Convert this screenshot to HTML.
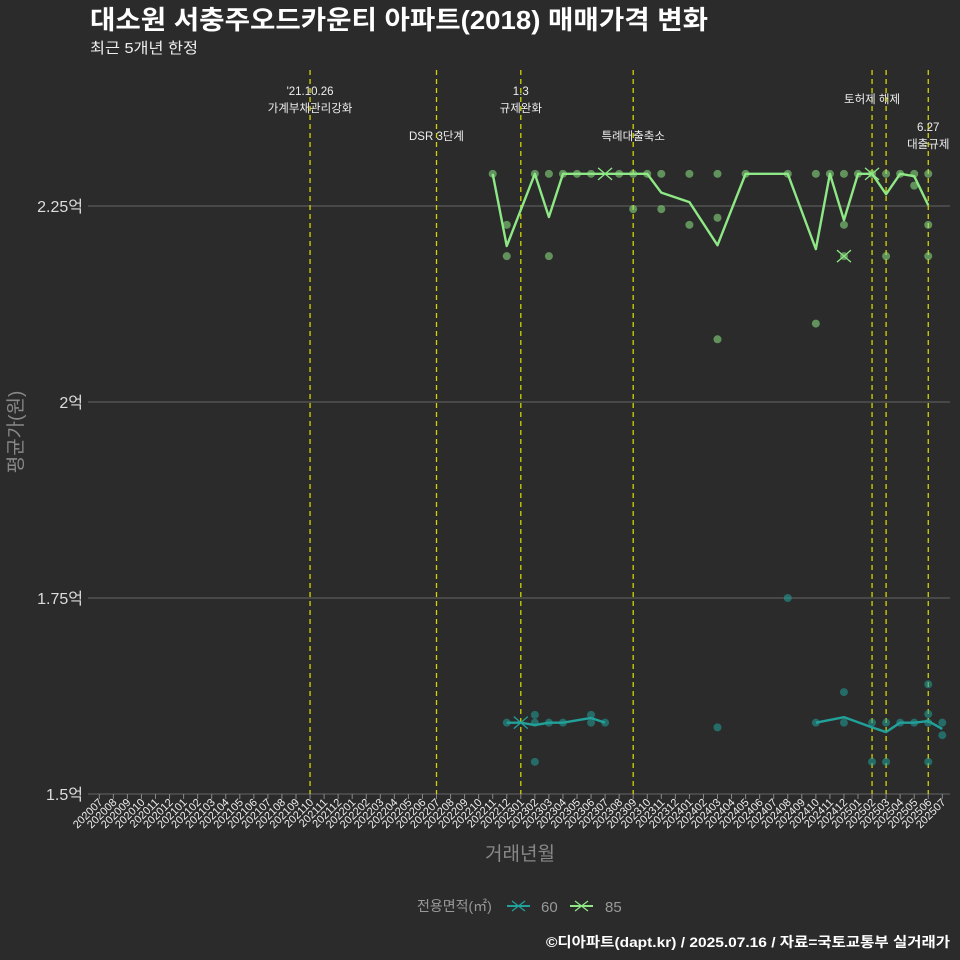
<!DOCTYPE html>
<html><head><meta charset="utf-8"><style>
body{margin:0;background:#2b2b2b;}
svg{display:block;font-family:"Liberation Sans","Noto Sans CJK KR",sans-serif;}
</style></head><body>
<svg id="c" width="960" height="960" viewBox="0 0 960 960">
<rect width="960" height="960" fill="#2b2b2b"/>
<text x="90" y="29" font-size="26" font-weight="bold" fill="#fff" textLength="618" lengthAdjust="spacingAndGlyphs">대소원 서충주오드카운티 아파트(2018) 매매가격 변화</text>
<text x="90" y="53" font-size="15" fill="#eee" textLength="108" lengthAdjust="spacingAndGlyphs">최근 5개년 한정</text>
<g id="grid"></g><g id="events"></g><g id="series"></g><g id="axes"></g>
<text x="520" y="860" font-size="19" fill="#888" text-anchor="middle">거래년월</text>
<text transform="translate(22,432) rotate(-90)" font-size="19" fill="#888" text-anchor="middle">평균가(원)</text>
<g>
<text x="417" y="911" font-size="14" fill="#999">전용면적(㎡)</text>
<g><line x1="507" y1="906" x2="530" y2="906" stroke="#21a19a" stroke-width="2"/><path d="M512,901 L525,911 M512,911 L525,901" stroke="#21a19a" stroke-width="1.2"/><text x="541" y="912" font-size="15" fill="#999">60</text></g>
<g><line x1="570" y1="906" x2="593" y2="906" stroke="#8ee885" stroke-width="2"/><path d="M575,901 L588,911 M575,911 L588,901" stroke="#8ee885" stroke-width="1.2"/><text x="605" y="912" font-size="15" fill="#999">85</text></g>
</g>
<text x="950" y="947" font-size="14" font-weight="bold" fill="#fff" text-anchor="end" textLength="404" lengthAdjust="spacingAndGlyphs">©디아파트(dapt.kr) / 2025.07.16 / 자료=국토교통부 실거래가</text>
</svg>
<script>
const yTicks=[1.5,1.75,2,2.25];
const yTickLabels=["1.5억","1.75억","2억","2.25억"];
const months=[];for(let y=2020;y<=2025;y++)for(let m=1;m<=12;m++){const k=y*100+m;if(k>=202007&&k<=202507)months.push(String(k));}
const events=[{m:"202110",t:["'21.10.26","가계부채관리강화"],y:95},{m:"202207",t:["DSR 3단계"],y:140},{m:"202301",t:["1.3","규제완화"],y:95},{m:"202309",t:["특례대출축소"],y:140},{m:"202502",t:["토허제 해제"],y:103},{m:"202503",t:[],y:0},{m:"202506",t:["6.27","대출규제"],y:131}];
const line85Months=["202211","202212","202302","202303","202304","202305","202306","202307","202308","202309","202310","202311","202401","202403","202405","202408","202410","202411","202412","202501","202502","202503","202504","202505","202506"];
const line85Values=[2.291,2.199,2.291,2.236,2.291,2.291,2.291,2.291,2.291,2.291,2.291,2.267,2.255,2.2,2.291,2.291,2.195,2.291,2.232,2.291,2.291,2.265,2.291,2.288,2.251];
const dots85Months=["202211","202212","202212","202302","202303","202303","202304","202305","202306","202308","202309","202309","202310","202311","202311","202401","202401","202403","202403","202403","202405","202408","202410","202410","202411","202412","202412","202412","202501","202502","202503","202503","202504","202505","202505","202506","202506","202506"];
const dots85Values=[2.291,2.226,2.186,2.291,2.291,2.186,2.291,2.291,2.291,2.291,2.291,2.246,2.291,2.291,2.246,2.291,2.226,2.291,2.235,2.08,2.291,2.291,2.291,2.1,2.291,2.291,2.226,2.186,2.291,2.291,2.291,2.186,2.291,2.291,2.276,2.291,2.226,2.186];
const x85Months=["202307","202412","202502"];
const x85Values=[2.291,2.186,2.291];
const line60aMonths=["202212","202301","202302","202303","202304","202306","202307"];
const line60aValues=[1.591,1.591,1.588,1.591,1.591,1.597,1.591];
const line60bMonths=["202410","202412","202502","202503","202504","202505","202506","202507"];
const line60bValues=[1.591,1.598,1.585,1.579,1.591,1.591,1.593,1.583];
const dots60Months=["202212","202302","202302","202302","202303","202304","202306","202306","202307","202403","202408","202410","202412","202412","202502","202502","202503","202503","202504","202505","202506","202506","202506","202506","202507","202507"];
const dots60Values=[1.591,1.601,1.591,1.541,1.591,1.591,1.601,1.591,1.591,1.585,1.75,1.591,1.63,1.591,1.591,1.541,1.591,1.541,1.591,1.591,1.64,1.602,1.591,1.541,1.591,1.575];
const x60Months=["202301"];
const x60Values=[1.591];

const NS="http://www.w3.org/2000/svg";
const X0=99.3,DX=14.05,Y0=794,K=784;
const xs=m=>X0+months.indexOf(m)*DX;
const ys=v=>Y0-(v-1.5)*K;
function mk(tag,attrs,parent){const e=document.createElementNS(NS,tag);for(const k in attrs)e.setAttribute(k,attrs[k]);parent.appendChild(e);return e;}
const grid=document.getElementById('grid'),ev=document.getElementById('events'),se=document.getElementById('series'),ax=document.getElementById('axes');
yTicks.forEach((t,i)=>{
 const g=mk('line',{x1:88,x2:950,y1:ys(t),y2:ys(t),stroke:'#5a5a5a','stroke-width':1.2},grid);
 
 
 const tx=mk('text',{x:83,y:ys(t)+6,'font-size':16,fill:'#ddd','text-anchor':'end'},ax);
 tx.textContent=yTickLabels[i];
 
 
});
months.forEach(m=>{
 const x=xs(m);
 const tk=mk('line',{x1:x,x2:x,y1:794,y2:799,stroke:'#888'},ax);
 
 
 const t=mk('text',{x:x+4,y:803,'font-size':11,fill:'#eee','text-anchor':'end',transform:`rotate(-45 ${x+4} 803)`},ax);
 t.textContent=m;
 
 
});
events.forEach(e=>{
 const x=xs(e.m);
 const l=mk('line',{x1:x,x2:x,y1:70,y2:794,stroke:'#d4d400','stroke-width':1.3,'stroke-dasharray':'5,4'},ev);
 
 
 e.t.forEach((s,i)=>{
  const t=mk('text',{x:x,y:e.y+i*17,'font-size':11.5,fill:'#eee','text-anchor':'middle'},ev);
  t.textContent=s;
  
  
 });
});
function line(lm,lv,col,name){
 const p=mk('polyline',{points:lm.map((m,i)=>xs(m)+','+ys(lv[i])).join(' '),fill:'none',stroke:col,'stroke-width':2.4,'stroke-linejoin':'round'},se);
 
 
}
function pts(dm,dv,xm,xv,col,name){
 dm.forEach((m,i)=>{
  const c=mk('circle',{cx:xs(m),cy:ys(dv[i]),r:4,fill:col,'fill-opacity':0.55},se);
  
  
 });
 xm.forEach((m,i)=>{
  const x=xs(m),y=ys(xv[i]);
  const c=mk('path',{d:`M${x-7},${y-6} L${x+7},${y+6} M${x-7},${y+6} L${x+7},${y-6}`,stroke:col,'stroke-width':1.3},se);
  
  
 });
}
pts(dots60Months,dots60Values,x60Months,x60Values,'#21a19a','60');
line(line60aMonths,line60aValues,'#21a19a','60');
line(line60bMonths,line60bValues,'#21a19a','60');
pts(dots85Months,dots85Values,x85Months,x85Values,'#8ee885','85');
line(line85Months,line85Values,'#8ee885','85');
</script>
</body></html>
